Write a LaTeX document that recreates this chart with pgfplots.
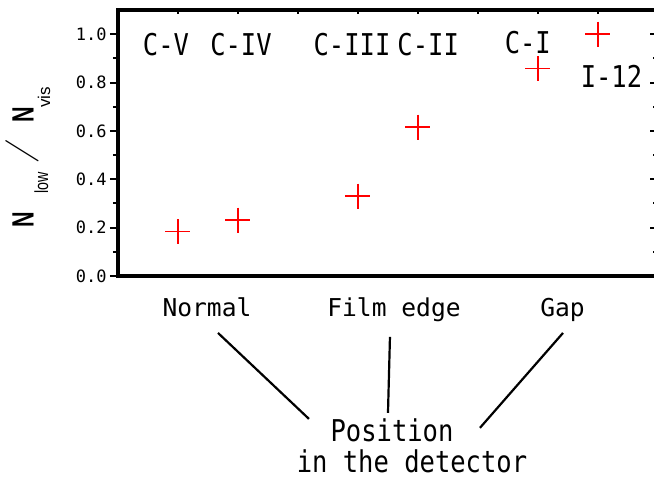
\documentclass[border=0pt]{standalone}
\usepackage{fontspec}
\usepackage{pgfplots}
\pgfplotsset{compat=1.18}
\newfontfamily\gothA{DejaVu Sans Mono}
\newfontfamily\gothB[FakeStretch=0.85]{DejaVu Sans Mono}
\newfontfamily\arialf{Liberation Sans}
\begin{document}
\begin{tikzpicture}
\pgfplotsset{
  base/.style={width=270pt,height=133pt,scale only axis,
    xmin=0,xmax=9,ymin=0,ymax=1.1,
    axis line style={line width=1.6pt},
    every tick/.style={black,line width=1pt}},
}
\begin{axis}[base, clip=false,
  ytick={0,0.2,0.4,0.6,0.8,1.0}, minor y tick num=1,
  ytick pos=left, tick align=outside,
  major tick length=4pt, minor tick length=2.5pt,
  xtick=\empty,
  /pgf/number format/assume math mode=true,
  yticklabel style={font=\gothA\fontsize{8.5}{10}\selectfont,
    /pgf/number format/fixed, /pgf/number format/fixed zerofill,
    /pgf/number format/precision=1, inner xsep=1.5pt},
]
\addplot[only marks, mark=+, mark size=6.25pt, red, line width=0.7pt]
  coordinates {(1,0.183) (2,0.231) (4,0.33) (5,0.616) (7,0.858) (8,1.0)};

\node[font=\gothB\fontsize{15}{16}\selectfont, anchor=base] at (axis cs:0.8,0.913) {C-V};
\node[font=\gothB\fontsize{15}{16}\selectfont, anchor=base] at (axis cs:2.05,0.913) {C-IV};
\node[font=\gothB\fontsize{15}{16}\selectfont, anchor=base] at (axis cs:3.9,0.913) {C-III};
\node[font=\gothB\fontsize{15}{16}\selectfont, anchor=base] at (axis cs:5.17,0.913) {C-II};
\node[font=\gothB\fontsize{15}{16}\selectfont, anchor=base] at (axis cs:6.83,0.92) {C-I};
\node[font=\gothB\fontsize{15}{16}\selectfont, anchor=base] at (axis cs:8.225,0.781) {I-12};

\node[font=\gothA\fontsize{12.3}{14}\selectfont, anchor=base] at (axis cs:1.483,-0.168) {Normal};
\node[font=\gothA\fontsize{12.3}{14}\selectfont, anchor=base] at (axis cs:4.6,-0.168) {Film edge};
\node[font=\gothA\fontsize{12.3}{14}\selectfont, anchor=base] at (axis cs:7.41,-0.168) {Gap};

\node[font=\gothB\fontsize{15}{16}\selectfont, anchor=base] at (axis cs:4.567,-0.686) {Position};
\node[font=\gothB\fontsize{15}{16}\selectfont, anchor=base] at (axis cs:4.9,-0.814) {in the detector};

\draw[line width=1.1pt] (axis cs:1.667,-0.2355) -- (axis cs:3.183,-0.591);
\draw[line width=1.1pt] (axis cs:4.533,-0.252) -- (axis cs:4.5,-0.566);
\draw[line width=1.1pt] (axis cs:7.417,-0.2355) -- (axis cs:6.033,-0.628);

\node[rotate=90, anchor=base west, inner sep=0pt, font=\arialf\fontsize{8.5}{10}\selectfont]
  at (axis cs:-1.408,0.198)
  {\makebox[17pt][l]{\scalebox{0.7}[1]{\fontsize{15.4}{16}\selectfont\bfseries N}}%
   \makebox[15pt][l]{\raisebox{-7.3pt}{\scalebox{0.75}[1]{\fontsize{9.5}{10}\selectfont low}}}%
   \makebox[20.5pt][l]{\raisebox{0.8pt}{\rotatebox[origin=c]{-13}{\rmfamily\fontsize{18.5}{19}\selectfont /}}}%
   \makebox[7.5pt][l]{\scalebox{0.7}[1]{\fontsize{15.4}{16}\selectfont\bfseries N}}%
   \raisebox{-8.25pt}{vis}};
\end{axis}
\begin{axis}[base,
  ytick={0,0.2,0.4,0.6,0.8,1.0}, minor y tick num=1,
  ytick pos=right, tick align=inside, yticklabels={},
  major tick length=4pt, minor tick length=2.5pt,
  xtick=\empty]
\end{axis}
\begin{axis}[base,
  ytick=\empty, xtick={1,2,3,4,5,6,7,8}, xtick pos=right,
  tick align=inside, xticklabels={}, major tick length=2pt]
\end{axis}
\pgfresetboundingbox
\path[use as bounding box] (-59pt,-102pt) rectangle (268pt,138pt);
\end{tikzpicture}
\end{document}
